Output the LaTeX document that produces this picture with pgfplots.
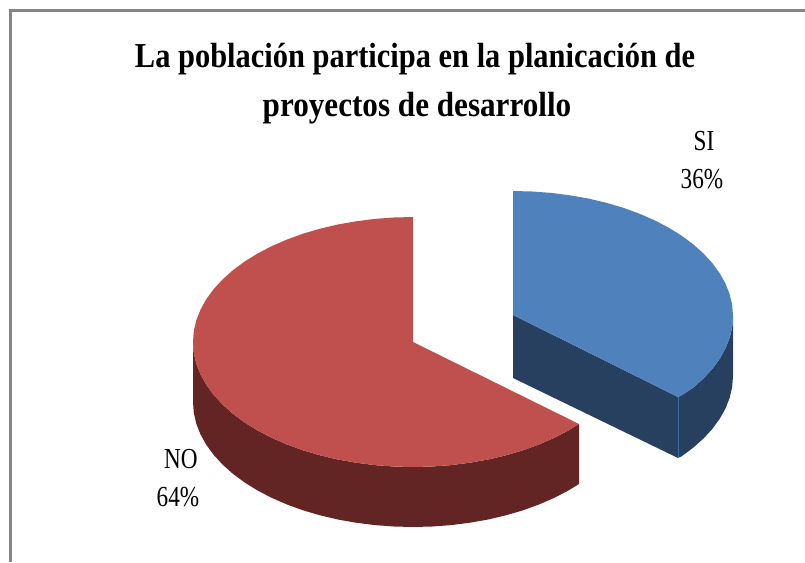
\documentclass[border=0pt]{standalone}
\usepackage{pgfplots}
\pgfplotsset{compat=1.18}
\usepackage{fontspec}
\setmainfont{Liberation Serif}
\definecolor{blueT}{HTML}{4F81BD}
\definecolor{blueS}{HTML}{274060}
\definecolor{redT}{HTML}{C0504D}
\definecolor{redS}{HTML}{632523}
\definecolor{frameC}{HTML}{868686}
\newcommand{\ttl}[2]{\scalebox{#1}[1]{\fontsize{35}{35}\selectfont\bfseries #2}}
\newcommand{\lbl}[1]{\scalebox{0.8}[1]{\fontsize{29}{29}\selectfont #1}}
\begin{document}
\begin{tikzpicture}
\begin{axis}[
  scale only axis, width=805pt, height=562pt,
  xmin=0, xmax=805, ymin=0, ymax=562, y dir=reverse,
  hide axis, clip=true,
]
\path[use as bounding box] (axis cs:0,0) rectangle (axis cs:805,562);
% frame
\addplot[draw=frameC, line width=2.4pt, line cap=butt] coordinates {(10.5,562) (10.5,10.5) (805,10.5)};
% blue side (outer arc)
\addplot[draw=none, fill=blueS] coordinates {
 (733,316) (732.2,326.9) (729.7,337.7) (725.5,348.4) (719.7,358.8) (712.4,368.8) (703.5,378.5) (693.2,387.7) (681.5,395.4) (678,397)
 (678,458) (681.5,456.4) (693.2,447.7) (703.5,438.5) (712.4,428.8) (719.7,418.8) (725.5,408.4) (729.7,397.7) (732.2,386.9) (733,376)} -- cycle;
% blue side (cut face)
\addplot[draw=none, fill=blueS] coordinates {(513,315) (678,397) (678,458) (513,378)} -- cycle;
% edge highlight
\addplot[draw=blueT!70!blueS, line width=0.7pt] coordinates {(678,397) (678,458)};
% blue top
\addplot[draw=none, fill=blueT] coordinates {
 (513,315) (513,191) (532.2,191.5) (551.2,192.9) (569.9,195.3) (588.2,198.5) (606,202.7) (623,207.7)
 (639.2,213.6) (654.4,220.2) (668.6,227.6) (681.5,235.6) (693.2,244.3) (703.5,253.5) (712.4,263.2)
 (719.7,273.2) (725.5,283.6) (729.7,294.3) (732.2,305.1) (733,316) (732.2,326.9) (729.7,337.7)
 (725.5,348.4) (719.7,358.8) (712.4,368.8) (703.5,378.5) (693.2,387.7) (681.5,395.4) (678,397)} -- cycle;
% red side
\addplot[draw=none, fill=redS] coordinates {
 (579,424) (568.6,430.4) (554.4,437.8) (539.2,444.4) (523,450.3) (506,455.3) (488.2,459.5) (469.9,462.7)
 (451.2,465.1) (432.2,466.5) (413,467) (393.8,466.5) (374.8,465.1) (356.1,462.7) (337.8,459.5) (320,455.3)
 (303,450.3) (286.8,444.4) (271.6,437.8) (257.4,430.4) (244.5,422.4) (232.8,413.7) (222.5,404.5) (213.6,394.8)
 (206.3,384.8) (200.5,374.4) (196.3,363.7) (193.8,352.9) (193,342)
 (193,402) (193.8,412.9) (196.3,423.7) (200.5,434.4) (206.3,444.8) (213.6,454.8) (222.5,464.5) (232.8,473.7)
 (244.5,482.4) (257.4,490.4) (271.6,497.8) (286.8,504.4) (303,510.3) (320,515.3) (337.8,519.5) (356.1,522.7)
 (374.8,525.1) (393.8,526.5) (413,527) (432.2,526.5) (451.2,525.1) (469.9,522.7) (488.2,519.5) (506,515.3)
 (523,510.3) (539.2,504.4) (554.4,497.8) (568.6,490.4) (579,484)} -- cycle;
% red top
\addplot[draw=none, fill=redT] coordinates {
 (413,342) (579,424) (568.6,430.4) (554.4,437.8) (539.2,444.4) (523,450.3) (506,455.3) (488.2,459.5) (469.9,462.7)
 (451.2,465.1) (432.2,466.5) (413,467) (393.8,466.5) (374.8,465.1) (356.1,462.7) (337.8,459.5) (320,455.3)
 (303,450.3) (286.8,444.4) (271.6,437.8) (257.4,430.4) (244.5,422.4) (232.8,413.7) (222.5,404.5) (213.6,394.8)
 (206.3,384.8) (200.5,374.4) (196.3,363.7) (193.8,352.9) (193,342) (193.8,331.1) (196.3,320.3) (200.5,309.6)
 (206.3,299.2) (213.6,289.2) (222.5,279.5) (232.8,270.3) (244.5,261.6) (257.4,253.6) (271.6,246.2) (286.8,239.6)
 (303,233.7) (320,228.7) (337.8,224.5) (356.1,221.3) (374.8,218.9) (393.8,217.5) (413,217)} -- cycle;
% text
\node[anchor=base, inner sep=0pt] at (axis cs:415,67) {\ttl{0.87}{La población participa en la planicación de}};
\node[anchor=base, inner sep=0pt] at (axis cs:417,116) {\ttl{0.89}{proyectos de desarrollo}};
\node[anchor=base, inner sep=0pt] at (axis cs:704,150.5) {\lbl{SI}};
\node[anchor=base, inner sep=0pt] at (axis cs:702,188.5) {\lbl{36\%}};
\node[anchor=base, inner sep=0pt] at (axis cs:181,468) {\lbl{NO}};
\node[anchor=base, inner sep=0pt] at (axis cs:178,506) {\lbl{64\%}};
\end{axis}
\end{tikzpicture}
\end{document}
